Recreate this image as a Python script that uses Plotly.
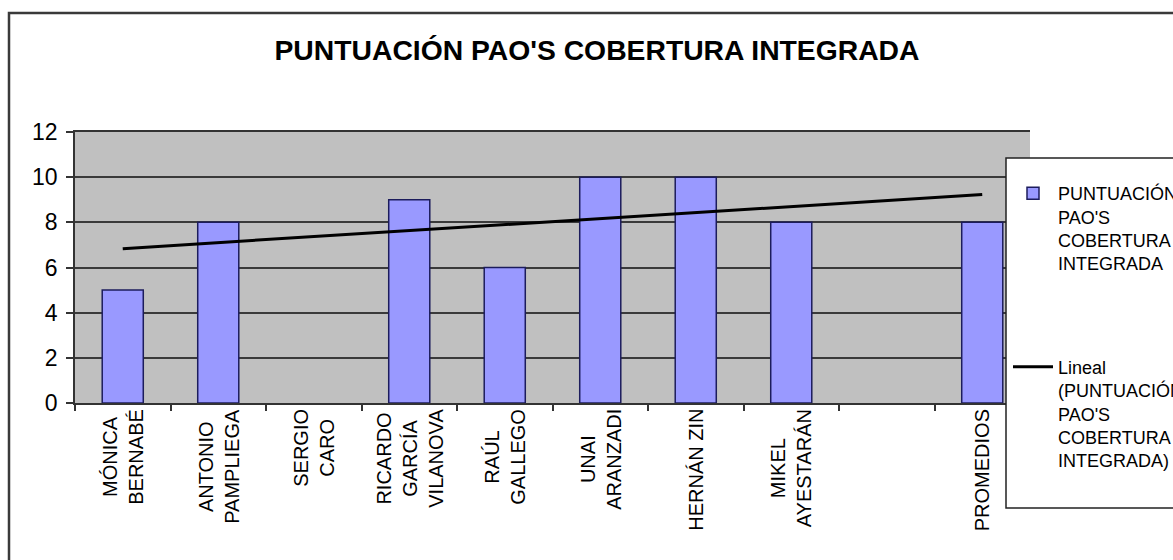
import numpy as np
import plotly.graph_objects as go

# Category labels (line breaks as shown on the axis), scores and axis ticks
categories = [
    "MÓNICA<br>BERNABÉ",
    "ANTONIO<br>PAMPLIEGA",
    "SERGIO<br>CARO",
    "RICARDO<br>GARCÍA<br>VILANOVA",
    "RAÚL<br>GALLEGO",
    "UNAI<br>ARANZADI",
    "HERNÁN ZIN",
    "MIKEL<br>AYESTARÁN",
    "",
    "PROMEDIOS",
]
scores = [5, 8, None, 9, 6, 10, 10, 8, None, 8]
y_ticks = [0, 2, 4, 6, 8, 10, 12]

series_name = "PUNTUACIÓN<br>PAO'S<br>COBERTURA<br>INTEGRADA"
trend_name = "Lineal<br>(PUNTUACIÓN<br>PAO'S<br>COBERTURA<br>INTEGRADA)"
title_text = "<b>PUNTUACIÓN PAO'S COBERTURA INTEGRADA</b>"

FONT = "Liberation Sans, Arial, sans-serif"

# Page geometry (pixels) and helpers to convert to paper coordinates
W, H = 1173, 560
ML, MR, MT, MB = 75, 143, 132, 157
PW, PH = W - ML - MR, H - MT - MB


def px_x(px):
    return (px - ML) / PW


def px_y(py):
    return (H - MB - py) / PH


# Category slots 1..N; linear least-squares trend over the scored slots
positions = np.arange(1, len(categories) + 1)
known = [(p, s) for p, s in zip(positions, scores) if s is not None]
kx, ky = zip(*known)
slope, intercept = np.polyfit(kx, ky, 1)
trend = slope * positions + intercept

fig = go.Figure()

fig.add_trace(go.Bar(
    x=positions,
    y=scores,
    name=series_name,
    legendgroup="bars",
    marker=dict(color="#9999FF", line=dict(color="#1c1c5c", width=1.5)),
))

fig.add_trace(go.Scatter(
    x=positions,
    y=trend,
    mode="lines",
    name=trend_name,
    legendgroup="trend",
    line=dict(color="black", width=3),
))

# Rotated, centred category labels under each slot
annotations = []
for pos, label in zip(positions, categories):
    if not label:
        continue
    annotations.append(dict(
        x=pos, y=0, xref="x", yref="paper",
        xanchor="center", yanchor="top", yshift=-4,
        text=label, textangle=-90, align="center", showarrow=False,
        font=dict(family=FONT, size=20, color="black"),
    ))

shapes = [
    # chart frame
    dict(type="rect", xref="paper", yref="paper",
         x0=px_x(9), x1=px_x(1200), y0=px_y(13), y1=px_y(580),
         line=dict(color="#3a3a3a", width=2.5), fillcolor="rgba(0,0,0,0)",
         layer="below"),
    # legend box
    dict(type="rect", xref="paper", yref="paper",
         x0=px_x(1006), x1=px_x(1200), y0=px_y(158), y1=px_y(508),
         line=dict(color="#222222", width=1.5), fillcolor="white",
         layer="above"),
]

fig.update_layout(
    width=W, height=H,
    margin=dict(l=ML, r=MR, t=MT, b=MB, autoexpand=False),
    paper_bgcolor="white",
    plot_bgcolor="#C0C0C0",
    font=dict(family=FONT, color="black"),
    title=dict(
        text=title_text,
        xref="container", yref="container",
        x=597 / W, y=1 - 50 / H, xanchor="center", yanchor="middle",
        font=dict(family=FONT, size=28.3, color="black"),
    ),
    bargap=0.57,
    showlegend=True,
    legend=dict(
        xref="paper", yref="container",
        x=px_x(1008), y=1 - 175 / H, xanchor="left", yanchor="top",
        bgcolor="rgba(0,0,0,0)", borderwidth=0,
        font=dict(family=FONT, size=18, color="black"),
        valign="top", itemwidth=40, tracegroupgap=77,
        traceorder="grouped", maxheight=420,
    ),
    xaxis=dict(
        range=[0.5, len(categories) + 0.5],
        tickmode="array",
        tickvals=[p - 0.5 for p in positions] + [positions[-1] + 0.5],
        showticklabels=False,
        ticks="outside", ticklen=6, tickwidth=1.5, tickcolor="#333333",
        showgrid=False, zeroline=False,
        showline=True, linecolor="#333333", linewidth=1.5, mirror=True,
    ),
    yaxis=dict(
        range=[0, 12],
        tickmode="array", tickvals=y_ticks,
        ticks="outside", ticklen=7, tickwidth=1.5, tickcolor="#333333",
        tickfont=dict(family=FONT, size=23, color="black"),
        ticklabelstandoff=4,
        showgrid=True, gridcolor="#3a3a3a", gridwidth=2,
        zeroline=False,
        showline=True, linecolor="#333333", linewidth=1.5,
    ),
    annotations=annotations,
    shapes=shapes,
)

fig.write_html("out.html")
